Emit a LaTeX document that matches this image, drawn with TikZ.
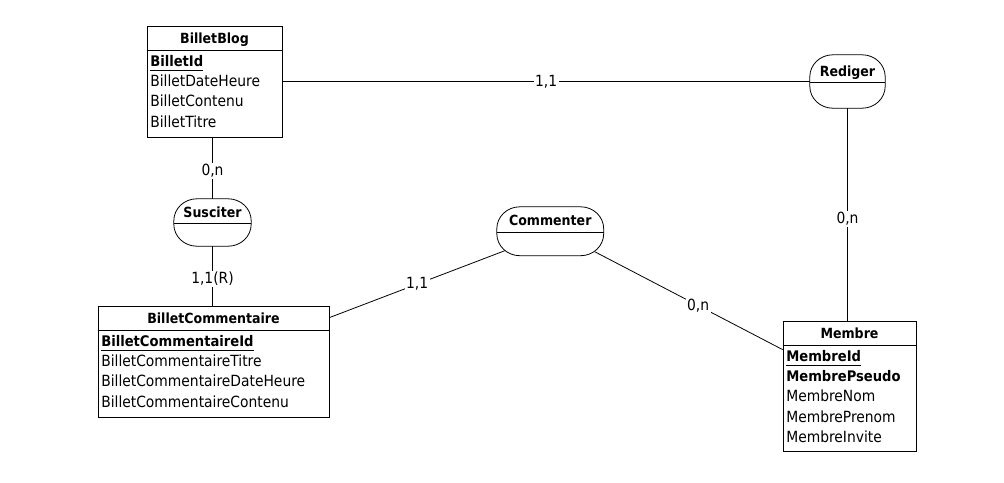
\documentclass[tikz,border=0pt]{standalone}
\usepackage{fontspec}
\setmainfont{DejaVuSansCondensed}[Extension=.ttf, BoldFont=DejaVuSansCondensed-Bold]
\usetikzlibrary{calc}
\newcommand{\mcdfont}{\fontsize{15.4}{18}\selectfont}
% outline of a relation: flat top and bottom, elliptic ends
\newcommand{\relshape}[1]{%
  \draw[line] ([xshift=23pt]#1.north west) -- ([xshift=-23pt]#1.north east)
    arc[start angle=90, end angle=0, x radius=23pt, y radius=22pt]
    -- ([yshift=22pt]#1.south east)
    arc[start angle=0, end angle=-90, x radius=23pt, y radius=22pt]
    -- ([xshift=23pt]#1.south west)
    arc[start angle=270, end angle=180, x radius=23pt, y radius=22pt]
    -- ([yshift=-22pt]#1.north west)
    arc[start angle=180, end angle=90, x radius=23pt, y radius=22pt] -- cycle;
  \draw[line] ($(#1.west)+(0,1)$) -- ($(#1.east)+(0,1)$);}

\begin{document}
\begin{tikzpicture}[
  x=1pt, y=-1pt,
  font=\mcdfont,
  entity/.style={draw, line width=0.8pt, inner sep=0pt},
  relation/.style={inner sep=0pt},
  title/.style={font=\fontsize{14}{18}\selectfont\bfseries, inner sep=0pt, anchor=base},
  attr/.style={inner sep=0pt, anchor=base west},
  key/.style={attr, font=\fontsize{14.6}{18}\selectfont\bfseries},
  card/.style={fill=white, inner sep=1.5pt},
  line/.style={line width=0.8pt}
]
\useasboundingbox (0,0) rectangle (1004,482);

% BilletBlog
\node[entity, minimum width=135, minimum height=111] (blog) at (214.5,81.5) {};
\node[title] (blogT) at ($(blog.north)+(0,17.5)$) {BilletBlog};
\draw[line] ($(blog.north west)+(0,24.5)$) -- ($(blog.north east)+(0,24.5)$);
\node[key] (blogK) at ($(blog.north west)+(3.5,40.5)$) {BilletId};
\draw[line] ($(blogK.base west)+(0,4)$) -- ($(blogK.base east)+(0,4)$);
\foreach \txt [count=\i] in {BilletDateHeure, BilletContenu, BilletTitre}
  \node[attr] (blogA\i) at ($(blogK.base west)+(0,20.3*\i)$) {\txt};

% BilletCommentaire
\node[entity, minimum width=231, minimum height=111] (bcomm) at (213.5,361.5) {};
\node[title] (bcommT) at ($(bcomm.north)+(0,17.5)$) {BilletCommentaire};
\draw[line] ($(bcomm.north west)+(0,24.5)$) -- ($(bcomm.north east)+(0,24.5)$);
\node[key] (bcommK) at ($(bcomm.north west)+(3.5,40.5)$) {BilletCommentaireId};
\draw[line] ($(bcommK.base west)+(0,4)$) -- ($(bcommK.base east)+(0,4)$);
\foreach \txt [count=\i] in {BilletCommentaireTitre, BilletCommentaireDateHeure, BilletCommentaireContenu}
  \node[attr] (bcommA\i) at ($(bcommK.base west)+(0,20.3*\i)$) {\txt};

% Membre
\node[entity, minimum width=133, minimum height=130] (membre) at (849.5,386) {};
\node[title] (membreT) at ($(membre.north)+(0,17.5)$) {Membre};
\draw[line] ($(membre.north west)+(0,24.5)$) -- ($(membre.north east)+(0,24.5)$);
\node[key] (membreK) at ($(membre.north west)+(3.5,40.5)$) {MembreId};
\draw[line] ($(membreK.base west)+(0,4)$) -- ($(membreK.base east)+(0,4)$);
\node[key] (membreP) at ($(membreK.base west)+(0,20.3)$) {MembrePseudo};
\foreach \txt [count=\i from 2] in {MembreNom, MembrePrenom, MembreInvite}
  \node[attr] (membreA\i) at ($(membreK.base west)+(0,20.3*\i)$) {\txt};

% relations
\node[relation, minimum width=77, minimum height=47] (susciter) at (212.5,222.5) {};
\relshape{susciter}
\node[title] (susciterT) at ($(susciter.center)+(0,-5.5)$) {Susciter};

\node[relation, minimum width=106.5, minimum height=48.5] (commenter) at (550.25,231.25) {};
\relshape{commenter}
\node[title] (commenterT) at ($(commenter.center)+(0,-5.5)$) {Commenter};

\node[relation, minimum width=75, minimum height=53] (rediger) at (847.5,81.5) {};
\relshape{rediger}
\node[title] (redigerT) at ($(rediger.center)+(0,-5.5)$) {Rediger};

% links
\draw[line] (blog) -- node[card] {1,1} (rediger);
\draw[line] (blog.south -| susciter) -- node[card, pos=.55] {0,n} (susciter);
\draw[line] (susciter) -- node[card, pos=.55] {1,1(R)} (susciter |- bcomm.north);
\draw[line] ([yshift=-12pt]bcomm.north east) -- node[card] {1,1} ([shift={(8,-5)}]commenter.south west);
\draw[line] ([shift={(-9,-4)}]commenter.south east) -- node[card, pos=.55] {0,n} ([yshift=-29pt]membre.north west);
\draw[line] (rediger) -- node[card, pos=.52] {0,n} (rediger |- membre.north);
\end{tikzpicture}
\end{document}
